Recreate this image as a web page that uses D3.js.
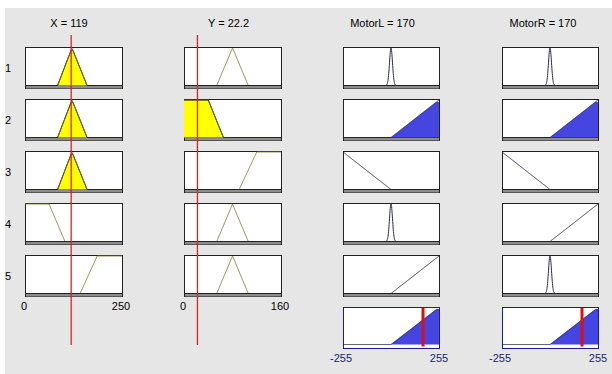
<!DOCTYPE html>
<html>
<head>
<meta charset="utf-8">
<script src="https://cdn.jsdelivr.net/npm/d3@7/dist/d3.min.js"></script>
<style>
  html, body { margin: 0; padding: 0; background: #ffffff; }
  svg { display: block; }
  text { font-family: "Liberation Sans", Arial, sans-serif; font-size: 11px; }
</style>
</head>
<body>
<svg id="chart" width="612" height="374"></svg>
<script>
// Fuzzy inference: crisp inputs and the resulting crisp outputs
const inputNames = ["X", "Y"];
const inputValues = [119, 22.2];
const inputRanges = [[0, 250], [0, 160]];
const outputNames = ["MotorL", "MotorR"];
const outputValues = [170, 170];
const outputRange = [-255, 255];

// Membership functions (trapezoid corners a,b,c,d; triangles have b == c)
const xMFs = { low: [0, 0, 62, 103], mid: [84, 121, 121, 160], high: [142, 186, 250, 250] };
const yMFs = { low: [0, 0, 40, 65], mid: [54, 80, 80, 106], high: [91, 120, 160, 160] };
const outMFs = { stop: { gauss: [0, 8] }, fwd: [0, 255, 255, 255], rev: [-255, -255, -255, 0] };

// Rule base, one entry per rule row
const ruleIds = [1, 2, 3, 4, 5];
const ruleX = ["mid", "mid", "mid", "low", "high"];
const ruleY = ["mid", "low", "high", "mid", "mid"];
const ruleL = ["stop", "fwd", "rev", "stop", "fwd"];
const ruleR = ["stop", "fwd", "rev", "fwd", "stop"];

// Axis end labels
const inputTickLabels = [["0", "250"], ["0", "160"]];
const outputTickLabels = ["-255", "255"];

function trap(p, v) {
  const [a, b, c, d] = p;
  if (v < a || v > d) return 0;
  if (v >= b && v <= c) return 1;
  if (v < b) return b === a ? 1 : (v - a) / (b - a);
  return d === c ? 1 : (d - v) / (d - c);
}
function mfValue(p, v) {
  if (p.gauss) { const [m, s] = p.gauss; return Math.exp(-((v - m) ** 2) / (2 * s * s)); }
  return trap(p, v);
}

// Layout
const svg = d3.select("#chart");
svg.append("rect").attr("x", 5).attr("y", 8).attr("width", 607).attr("height", 366).attr("fill", "#e6e6e6");

const colX = [[25, 122], [184, 281], [343, 439], [502, 598]];
const titleX = [69, 228.5, 382.5, 543];
const rowTop = [47, 99, 151, 203, 255];
const boxH = 41;
const aggTop = 307;
const band = 3;

const inputLine = "#84843a";
const outputLine = "#2a2a48";
const yellow = "#ffff00";
const blue = "#4545e2";
const red = "#e02020";

const firing = ruleIds.map((_, i) =>
  Math.min(trap(xMFs[ruleX[i]], inputValues[0]), trap(yMFs[ruleY[i]], inputValues[1])));

function drawBox(g, x0, x1, top) {
  g.append("rect").attr("x", x0 + 0.5).attr("y", top + 0.5).attr("width", x1 - x0).attr("height", boxH)
    .attr("fill", "#ffffff").attr("stroke", "#222").attr("stroke-width", 1);
  g.append("rect").attr("x", x0 + 1).attr("y", top + boxH - band + 0.5).attr("width", x1 - x0 - 1).attr("height", band)
    .attr("fill", "#8c8c8c");
  g.append("line").attr("x1", x0).attr("x2", x1).attr("y1", top + boxH - band + 0.5).attr("y2", top + boxH - band + 0.5)
    .attr("stroke", "#222").attr("stroke-width", 1);
}

function samples(domain, n) {
  return d3.range(n + 1).map(k => domain[0] + (domain[1] - domain[0]) * k / n);
}

// Input columns
[xMFs, yMFs].forEach((mfs, c) => {
  const dom = inputRanges[c];
  const x = d3.scaleLinear().domain(dom).range(colX[c]);
  const names = c === 0 ? ruleX : ruleY;
  const v = inputValues[c];
  ruleIds.forEach((id, r) => {
    const top = rowTop[r];
    const y = d3.scaleLinear().domain([0, 1]).range([top + boxH - band + 0.5, top + 1]);
    const g = svg.append("g");
    drawBox(g, colX[c][0], colX[c][1], top);
    const p = mfs[names[r]];
    const deg = trap(p, v);
    const pts = samples(dom, 400).map(t => [t, trap(p, t)]);
    if (deg > 0) {
      const area = d3.area().x(d => x(d[0])).y0(y(0)).y1(d => y(Math.min(d[1], deg)));
      g.append("path").datum(pts).attr("d", area).attr("fill", yellow).attr("stroke", "none");
      g.append("path").datum(pts).attr("d", d3.line().x(d => x(d[0])).y(d => y(Math.min(d[1], deg))))
        .attr("fill", "none").attr("stroke", "#333318").attr("stroke-width", 1);
    }
    g.append("path").datum(pts)
      .attr("d", d3.line().defined(d => d[1] > 0.001).x(d => x(d[0])).y(d => y(d[1])))
      .attr("fill", "none").attr("stroke", deg > 0 ? "#555522" : inputLine).attr("stroke-width", 1);
  });
  // end labels
  svg.append("text").attr("x", x(dom[0]) - 1).attr("y", 310).attr("text-anchor", "middle").text(inputTickLabels[c][0]);
  svg.append("text").attr("x", x(dom[1]) - 1).attr("y", 310).attr("text-anchor", "middle").text(inputTickLabels[c][1]);
  // crisp input indicator
  svg.append("line").attr("x1", x(v)).attr("x2", x(v)).attr("y1", 35).attr("y2", 345)
    .attr("stroke", red).attr("stroke-width", 1.3);
  svg.append("text").attr("x", titleX[c]).attr("y", 27).attr("text-anchor", "middle")
    .text(`${inputNames[c]} = ${v}`);
});

// Output columns
[ruleL, ruleR].forEach((names, o) => {
  const c = o + 2;
  const x = d3.scaleLinear().domain(outputRange).range(colX[c]);
  const pts = samples(outputRange, 510);
  const agg = pts.map(t => [t, 0]);
  ruleIds.forEach((id, r) => {
    const top = rowTop[r];
    const y = d3.scaleLinear().domain([0, 1]).range([top + boxH - band + 0.5, top + 1]);
    const g = svg.append("g");
    drawBox(g, colX[c][0], colX[c][1], top);
    const p = outMFs[names[r]];
    const w = firing[r];
    const curve = pts.map(t => [t, mfValue(p, t)]);
    if (w > 0) {
      curve.forEach((d, k) => { agg[k][1] = Math.max(agg[k][1], Math.min(d[1], w)); });
      g.append("path").datum(curve)
        .attr("d", d3.area().x(d => x(d[0])).y0(y(0)).y1(d => y(Math.min(d[1], w))))
        .attr("fill", blue).attr("stroke", "none");
    }
    g.append("path").datum(curve)
      .attr("d", d3.line().defined(d => d[1] > 0.002).x(d => x(d[0])).y(d => y(d[1])))
      .attr("fill", "none").attr("stroke", outputLine).attr("stroke-width", 1);
  });

  // Aggregated output
  const g = svg.append("g");
  const base = aggTop + boxH - 3.5;
  const y = d3.scaleLinear().domain([0, 1]).range([base, aggTop + 0.5]);
  g.append("rect").attr("x", colX[c][0] + 0.5).attr("y", aggTop + 0.5).attr("width", colX[c][1] - colX[c][0])
    .attr("height", boxH).attr("fill", "#ffffff").attr("stroke", "#1c1c90").attr("stroke-width", 1);
  g.append("path").datum(agg)
    .attr("d", d3.area().x(d => x(d[0])).y0(base).y1(d => y(d[1])))
    .attr("fill", blue).attr("stroke", "none");
  g.append("path").datum(agg)
    .attr("d", d3.line().x(d => x(d[0])).y(d => y(d[1])))
    .attr("fill", "none").attr("stroke", "#1a1a40").attr("stroke-width", 1);
  g.append("line").attr("x1", x(outputValues[o])).attr("x2", x(outputValues[o]))
    .attr("y1", aggTop + 1).attr("y2", base + 2).attr("stroke", "#dd1010").attr("stroke-width", 3);

  svg.append("text").attr("x", x(outputRange[0]) - 2).attr("y", 362).attr("text-anchor", "middle")
    .attr("fill", "#1a1a78").text(outputTickLabels[0]);
  svg.append("text").attr("x", x(outputRange[1])).attr("y", 362).attr("text-anchor", "middle")
    .attr("fill", "#1a1a78").text(outputTickLabels[1]);
  svg.append("text").attr("x", titleX[c]).attr("y", 27).attr("text-anchor", "middle")
    .text(`${outputNames[o]} = ${outputValues[o]}`);
});

// Rule numbers
ruleIds.forEach((id, r) => {
  svg.append("text").attr("x", 8).attr("y", rowTop[r] + boxH / 2 + 4).attr("text-anchor", "middle").text(id);
});
</script>
</body>
</html>
